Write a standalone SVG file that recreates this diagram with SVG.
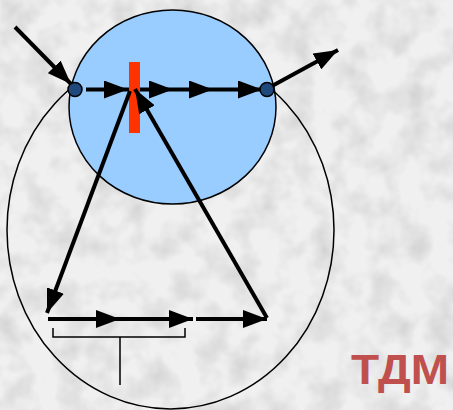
<svg xmlns="http://www.w3.org/2000/svg" width="453" height="410" viewBox="0 0 453 410">
<style>
.ln{stroke:#000;stroke-width:4;fill:none}
.thin{stroke:#000;stroke-width:1.5;fill:none}
</style>
<defs>
<marker id="ah" viewBox="0 0 24 18" refX="24" refY="9" markerWidth="24" markerHeight="18" markerUnits="userSpaceOnUse" orient="auto">
<path d="M0,0 L24,9 L0,18 Z" fill="#000"/>
</marker>
<filter id="tex" x="0" y="0" width="100%" height="100%">
<feTurbulence type="fractalNoise" baseFrequency="0.035" numOctaves="3" seed="4"/>
<feColorMatrix type="matrix" values="0 0 0 0 0  0 0 0 0 0  0 0 0 0 0  0 0 0 -0.9 0.55"/>
</filter>
</defs>
<rect width="453" height="410" fill="#f0f0f0"/>
<rect width="453" height="410" filter="url(#tex)" opacity="0.25"/>
<g id="outer-loop"><ellipse cx="170.5" cy="230" rx="163.5" ry="179" class="thin"/></g>
<g id="drum"><ellipse cx="172.5" cy="107" rx="103.5" ry="97" fill="#99ccff" stroke="#000" stroke-width="1.5"/></g>
<g id="connectors">
<line x1="15" y1="27" x2="71" y2="84" class="ln" marker-end="url(#ah)"/>
<line x1="272" y1="86" x2="338" y2="50" class="ln" marker-end="url(#ah)"/>
<line x1="86" y1="89.5" x2="128" y2="89.5" class="ln" marker-end="url(#ah)"/>
<line x1="128" y1="89.5" x2="173" y2="89.5" class="ln" marker-end="url(#ah)"/>
<line x1="173" y1="89.5" x2="213" y2="89.5" class="ln" marker-end="url(#ah)"/>
<line x1="213" y1="89.5" x2="262" y2="89.5" class="ln" marker-end="url(#ah)"/>
</g>
<g id="red-bar"><rect x="129" y="62" width="11" height="71" fill="#ff3300"/></g>
<g id="loop-connectors">
<line x1="130" y1="91" x2="47" y2="313" class="ln" marker-end="url(#ah)"/>
<line x1="267" y1="318" x2="135" y2="89" class="ln" marker-end="url(#ah)"/>
<line x1="48" y1="319" x2="120" y2="319" class="ln" marker-end="url(#ah)"/>
<line x1="120" y1="319" x2="193" y2="319" class="ln" marker-end="url(#ah)"/>
<line x1="196" y1="319" x2="267" y2="319" class="ln" marker-end="url(#ah)"/>
</g>
<g id="nodes">
<circle id="in-node" cx="75" cy="89.5" r="7" fill="#1f497d" stroke="#000" stroke-width="1.5"/>
<circle id="out-node" cx="267" cy="89.5" r="7" fill="#1f497d" stroke="#000" stroke-width="1.5"/>
</g>
<g id="bracket">
<path d="M53,328 V337 H185 V328 M120,337 V385" class="thin"/>
</g>
<text x="351" y="384" font-family="Liberation Sans, Arial, sans-serif" font-weight="bold" font-size="43" fill="#c0504d" textLength="98" lengthAdjust="spacingAndGlyphs">ТДМ</text>
</svg>
